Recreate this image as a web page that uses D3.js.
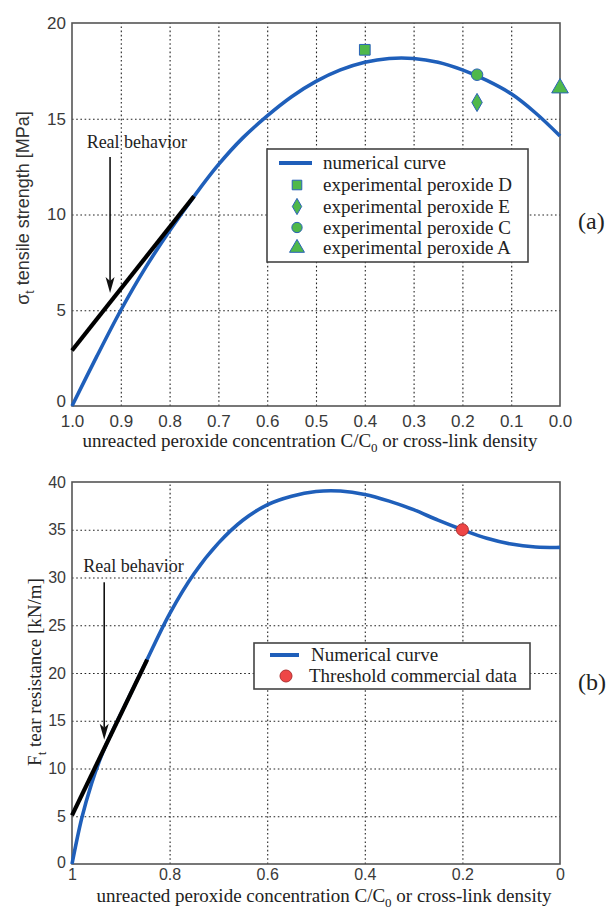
<!DOCTYPE html>
<html>
<head>
<meta charset="utf-8">
<script src="https://cdn.jsdelivr.net/npm/d3@7"></script>
<style>
  html, body { margin: 0; padding: 0; background: #fff; }
  svg { display: block; }
</style>
</head>
<body>
<svg id="chart" width="613" height="909"></svg>
<script>
// ---------------- DATA ----------------
// Panel (a): tensile strength
const xTicksA = [1.0, 0.9, 0.8, 0.7, 0.6, 0.5, 0.4, 0.3, 0.2, 0.1, 0.0];
const xTickLabelsA = ["1.0","0.9","0.8","0.7","0.6","0.5","0.4","0.3","0.2","0.1","0.0"];
const yTicksA = [0, 5, 10, 15, 20];
const curveXA = [1.0, 0.95, 0.9, 0.85, 0.8, 0.75, 0.7, 0.65, 0.6, 0.55, 0.5, 0.45, 0.4, 0.35, 0.3, 0.25, 0.2, 0.15, 0.1, 0.05, 0.0];
const curveYA = [0.0, 2.55, 5.0, 7.2, 9.15, 10.95, 12.6, 14.0, 15.15, 16.15, 16.95, 17.55, 17.95, 18.15, 18.15, 17.95, 17.55, 17.0, 16.3, 15.3, 14.1];
const realXA = [1.0, 0.75];
const realYA = [2.9, 10.95];
const expNames = ["experimental peroxide D", "experimental peroxide E", "experimental peroxide C", "experimental peroxide A"];
const expX = [0.40, 0.17, 0.17, 0.0];
const expY = [18.6, 15.85, 17.3, 16.6];
const arrowA = {x: 0.922, y0: 13.0, y1: 5.9};
const labelA = {x: 0.97, y: 13.45};

// Panel (b): tear resistance
const xTicksB = [1, 0.8, 0.6, 0.4, 0.2, 0];
const xTickLabelsB = ["1","0.8","0.6","0.4","0.2","0"];
const yTicksB = [0, 5, 10, 15, 20, 25, 30, 35, 40];
const curveXB = [1.0, 0.98, 0.96, 0.94, 0.92, 0.9, 0.85, 0.8, 0.75, 0.7, 0.65, 0.6, 0.55, 0.5, 0.45, 0.4, 0.35, 0.3, 0.25, 0.2, 0.15, 0.1, 0.05, 0.0];
const curveYB = [0.0, 4.8, 8.4, 11.3, 13.6, 15.7, 21.0, 26.2, 30.4, 33.6, 36.0, 37.6, 38.5, 39.0, 39.05, 38.7, 38.0, 37.1, 36.0, 35.0, 34.1, 33.5, 33.2, 33.15];
const realXB = [1.0, 0.846];
const realYB = [5.1, 21.4];
const thresholdX = [0.2];
const thresholdY = [35.0];
const arrowB = {x: 0.934, y0: 29.5, y1: 13.0};
const labelB = {x: 0.977, y: 30.6};

// ---------------- STYLE ----------------
const BLUE = "#1f5fba";
const GREEN = "#4fb84a";
const MARK_EDGE = "#2a62b8";
const RED = "#ee4646";
const SERIF = "'Liberation Serif','Times New Roman',serif";
const SANS = "'Liberation Sans',Arial,Helvetica,sans-serif";

const svg = d3.select("#chart");

function panel(opts) {
  const {left, right, top, bottom, xTicks, xLabels, yTicks, yMax, xPad, fs, zeroShift} = opts;
  const x = d3.scaleLinear().domain([1, 0]).range([left, right]);
  const y = d3.scaleLinear().domain([0, yMax]).range([bottom, top]);
  const g = svg.append("g");

  const gx = g.append("g").attr("transform", `translate(0,${bottom})`)
    .call(d3.axisBottom(x).tickValues(xTicks).tickFormat((d,i)=>xLabels[i])
      .tickSize(-(bottom-top)).tickPadding(xPad));
  const gy = g.append("g").attr("transform", `translate(${left},0)`)
    .call(d3.axisLeft(y).tickValues(yTicks).tickSize(-(right-left)).tickPadding(6));
  [gx, gy].forEach(a => {
    a.select(".domain").remove();
    a.selectAll(".tick line").attr("stroke", "#222").attr("stroke-width", 1.1)
      .attr("stroke-dasharray", "1.6,2.6");
    a.selectAll(".tick text").attr("font-family", SANS).attr("font-size", fs)
      .attr("fill", "#3a3a3a");
  });
  gx.selectAll(".tick").filter(d => d === 1 || d === 0).select("line").remove();
  gy.selectAll(".tick").filter(d => d === 0 || d === yMax).select("line").remove();
  // lift the y "0" label slightly so it clears the x tick label below it
  gy.selectAll(".tick").filter(d => d === 0).select("text").attr("y", -zeroShift);

  g.append("rect").attr("x", left).attr("y", top)
    .attr("width", right-left).attr("height", bottom-top)
    .attr("fill", "none").attr("stroke", "#555").attr("stroke-width", 1.6);
  return {x, y, g};
}

function arrow(g, px, py0, py1) {
  g.append("line").attr("x1", px).attr("x2", px).attr("y1", py0).attr("y2", py1 - 12)
    .attr("stroke", "#111").attr("stroke-width", 1.6);
  g.append("path")
    .attr("d", `M${px},${py1} L${px-4.5},${py1-16} L${px},${py1-12} L${px+4.5},${py1-16} Z`)
    .attr("fill", "#111");
}

// ---------------- PANEL A ----------------
const A = panel({left: 72, right: 560, top: 23, bottom: 406,
  xTicks: xTicksA, xLabels: xTickLabelsA, yTicks: yTicksA, yMax: 20, xPad: 9, fs: 17, zeroShift: 5});

const lineA = d3.line().x((d,i)=>A.x(curveXA[i])).y((d,i)=>A.y(curveYA[i])).curve(d3.curveCatmullRom.alpha(0.5));
A.g.append("path").datum(curveXA).attr("d", lineA)
  .attr("fill", "none").attr("stroke", BLUE).attr("stroke-width", 3.6);

A.g.append("line").attr("x1", A.x(realXA[0])).attr("y1", A.y(realYA[0]))
  .attr("x2", A.x(realXA[1])).attr("y2", A.y(realYA[1]))
  .attr("stroke", "#000").attr("stroke-width", 4.2);

arrow(A.g, A.x(arrowA.x), A.y(arrowA.y0), A.y(arrowA.y1));
A.g.append("text").attr("x", A.x(labelA.x)).attr("y", A.y(labelA.y))
  .attr("font-family", SERIF).attr("font-size", 18).attr("fill", "#222").text("Real behavior");

const symbolsA = [d3.symbolSquare, d3.symbolDiamond, d3.symbolCircle, d3.symbolTriangle];
const sizesA = [115, 95, 105, 120];
expX.forEach((v, i) => {
  A.g.append("path")
    .attr("d", d3.symbol().type(symbolsA[i]).size(sizesA[i])())
    .attr("transform", `translate(${A.x(v)},${A.y(expY[i])})`)
    .attr("fill", GREEN).attr("stroke", MARK_EDGE).attr("stroke-width", 1);
});

// legend A
const legA = A.g.append("g");
legA.append("rect").attr("x", 267).attr("y", 149).attr("width", 261).attr("height", 113)
  .attr("fill", "#fff").attr("stroke", "#444").attr("stroke-width", 1.6);
const rowsA = [163, 185, 206.5, 227.5, 248];
legA.append("line").attr("x1", 279).attr("x2", 312).attr("y1", rowsA[0]).attr("y2", rowsA[0])
  .attr("stroke", BLUE).attr("stroke-width", 4);
legA.append("text").attr("x", 323).attr("y", rowsA[0] + 6)
  .attr("font-family", SERIF).attr("font-size", 19).attr("fill", "#222").text("numerical curve");
expNames.forEach((n, i) => {
  legA.append("path")
    .attr("d", d3.symbol().type(symbolsA[i]).size(sizesA[i] * 0.8)())
    .attr("transform", `translate(297,${rowsA[i+1]})`)
    .attr("fill", GREEN).attr("stroke", MARK_EDGE).attr("stroke-width", 1);
  legA.append("text").attr("x", 323).attr("y", rowsA[i+1] + 6)
    .attr("font-family", SERIF).attr("font-size", 19).attr("fill", "#222").text(n);
});

// axis titles A
const xtA = svg.append("text").attr("x", 310).attr("y", 447).attr("text-anchor", "middle")
  .attr("font-family", SERIF).attr("font-size", 19).attr("fill", "#222");
xtA.append("tspan").text("unreacted peroxide concentration C/C");
xtA.append("tspan").attr("font-size", 13).attr("dy", 5).text("0");
xtA.append("tspan").attr("dy", -5).text(" or cross-link density");

const ytA = svg.append("text").attr("transform", "translate(29,208) rotate(-90)")
  .attr("text-anchor", "middle").attr("font-family", SANS).attr("font-size", 18).attr("fill", "#333");
ytA.append("tspan").text("σ");
ytA.append("tspan").attr("font-size", 12).attr("dy", 5).text("t");
ytA.append("tspan").attr("dy", -5).text(" tensile strength [MPa]");

svg.append("text").attr("x", 578).attr("y", 229).attr("font-family", SERIF)
  .attr("font-size", 24).attr("fill", "#222").text("(a)");

// ---------------- PANEL B ----------------
const B = panel({left: 72, right: 560, top: 482, bottom: 864,
  xTicks: xTicksB, xLabels: xTickLabelsB, yTicks: yTicksB, yMax: 40, xPad: 5, fs: 16, zeroShift: 2});

const lineB = d3.line().x((d,i)=>B.x(curveXB[i])).y((d,i)=>B.y(curveYB[i])).curve(d3.curveCatmullRom.alpha(0.5));
B.g.append("path").datum(curveXB).attr("d", lineB)
  .attr("fill", "none").attr("stroke", BLUE).attr("stroke-width", 3.6);

B.g.append("line").attr("x1", B.x(realXB[0])).attr("y1", B.y(realYB[0]))
  .attr("x2", B.x(realXB[1])).attr("y2", B.y(realYB[1]))
  .attr("stroke", "#000").attr("stroke-width", 4.2);

arrow(B.g, B.x(arrowB.x), B.y(arrowB.y0), B.y(arrowB.y1));
B.g.append("text").attr("x", B.x(labelB.x)).attr("y", B.y(labelB.y))
  .attr("font-family", SERIF).attr("font-size", 18).attr("fill", "#222").text("Real behavior");

thresholdX.forEach((v, i) => {
  B.g.append("circle").attr("cx", B.x(v)).attr("cy", B.y(thresholdY[i])).attr("r", 6)
    .attr("fill", RED).attr("stroke", "#b03030").attr("stroke-width", 1);
});

// legend B
const legB = B.g.append("g");
legB.append("rect").attr("x", 254).attr("y", 643).attr("width", 276).attr("height", 46)
  .attr("fill", "#fff").attr("stroke", "#444").attr("stroke-width", 1.6);
legB.append("line").attr("x1", 270).attr("x2", 299).attr("y1", 655).attr("y2", 655)
  .attr("stroke", BLUE).attr("stroke-width", 4);
legB.append("text").attr("x", 311).attr("y", 661)
  .attr("font-family", SERIF).attr("font-size", 19).attr("fill", "#222").text("Numerical curve");
legB.append("circle").attr("cx", 286).attr("cy", 676).attr("r", 6)
  .attr("fill", RED).attr("stroke", "#b03030").attr("stroke-width", 1);
legB.append("text").attr("x", 309).attr("y", 682)
  .attr("font-family", SERIF).attr("font-size", 19).attr("fill", "#222").text("Threshold commercial data");

const xtB = svg.append("text").attr("x", 324).attr("y", 902).attr("text-anchor", "middle")
  .attr("font-family", SERIF).attr("font-size", 19).attr("fill", "#222");
xtB.append("tspan").text("unreacted peroxide concentration C/C");
xtB.append("tspan").attr("font-size", 13).attr("dy", 5).text("0");
xtB.append("tspan").attr("dy", -5).text(" or cross-link density");

const ytB = svg.append("text").attr("transform", "translate(41,672) rotate(-90)")
  .attr("text-anchor", "middle").attr("font-family", SERIF).attr("font-size", 19).attr("fill", "#222");
ytB.append("tspan").text("F");
ytB.append("tspan").attr("font-size", 13).attr("dy", 5).text("t");
ytB.append("tspan").attr("dy", -5).text(" tear resistance [kN/m]");

svg.append("text").attr("x", 578).attr("y", 690).attr("font-family", SERIF)
  .attr("font-size", 24).attr("fill", "#222").text("(b)");
</script>
</body>
</html>
